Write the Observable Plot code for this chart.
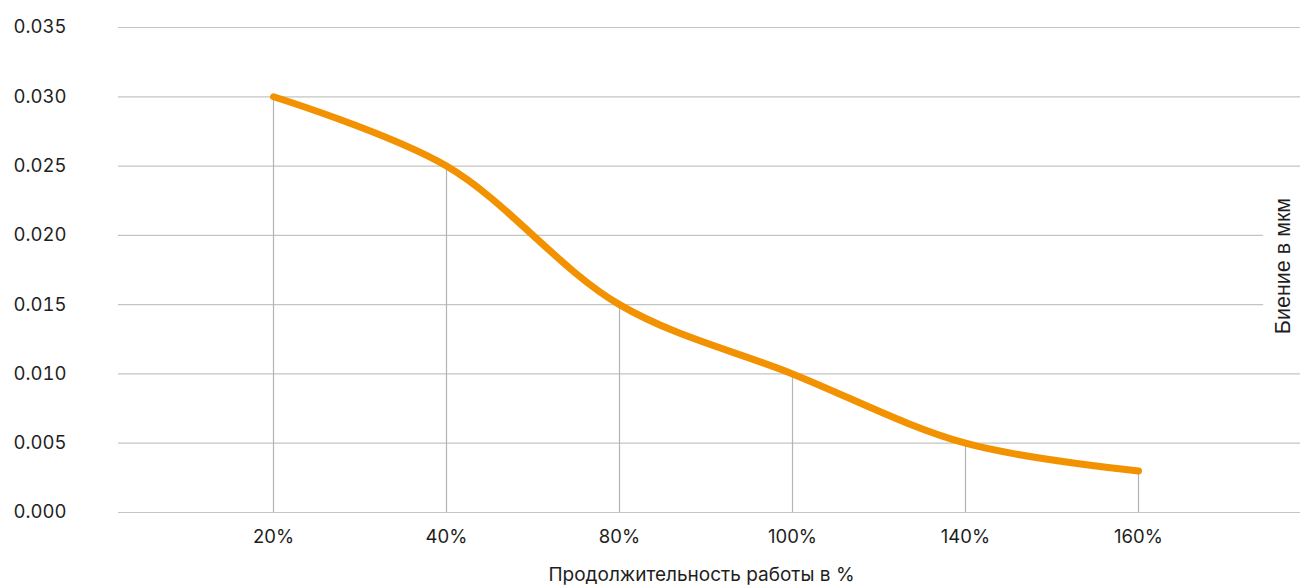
<!DOCTYPE html>
<html>
<head>
<meta charset="utf-8">
<script src="https://cdn.jsdelivr.net/npm/d3@7"></script>
<script src="https://cdn.jsdelivr.net/npm/@observablehq/plot@0.6"></script>
<style>
  html, body { margin: 0; padding: 0; background: #fff; }
  #chart { width: 1301px; height: 586px; }
</style>
</head>
<body>
<div id="chart"></div>
<script>
const categories = ["20%", "40%", "80%", "100%", "140%", "160%"];
const values = [0.030, 0.025, 0.015, 0.010, 0.005, 0.003];
const yTicks = [0, 0.005, 0.010, 0.015, 0.020, 0.025, 0.030, 0.035];
const xTitle = "Продолжительность работы в %";
const yTitle = "Биение в мкм";

const data = categories.map((c, i) => ({cat: c, val: values[i]}));
const FONT = "Inter, Lato, sans-serif";

const plot = Plot.plot({
  width: 1301,
  height: 586,
  marginLeft: 118,
  marginRight: 1,
  marginTop: 27,
  marginBottom: 74,
  style: {fontFamily: FONT, fontSize: "18.5px", color: "#222", background: "#fff"},
  x: {type: "point", domain: categories, padding: 0.91, align: 0.49},
  y: {domain: [0, 0.035]},
  marks: [
    Plot.ruleY(yTicks, {stroke: "#c4c4c4", strokeWidth: 1.2}),
    Plot.ruleX(data, {x: "cat", y1: 0, y2: "val", stroke: "#b4b4b4", strokeWidth: 1.2}),
    Plot.axisY(yTicks, {
      tickSize: 0, tickPadding: 0, textAnchor: "start", dx: -105,
      tickFormat: d3.format(".3f"), label: null, fontSize: 18.5, fill: "#1e1e1e"
    }),
    Plot.axisX({tickSize: 0, tickPadding: 17, label: null, fontSize: 18.5, fill: "#1e1e1e"}),
    Plot.line(data, {
      x: "cat", y: "val", stroke: "#F39200", strokeWidth: 7,
      curve: "catmull-rom", strokeLinecap: "round", strokeLinejoin: "round"
    }),
    Plot.text([xTitle], {
      frameAnchor: "bottom", text: d => d, dy: 62, dx: -8,
      fontSize: 19, fill: "#1e1e1e", lineAnchor: "middle"
    }),
    Plot.text([yTitle], {
      frameAnchor: "right", text: d => d, rotate: -90, dx: -17, dy: -4,
      textAnchor: "middle", lineAnchor: "middle",
      fontSize: 21.5, fill: "#1e1e1e", stroke: "#fff", strokeWidth: 30,
      fontFamily: "'Liberation Sans', Arial, sans-serif"
    })
  ]
});
document.getElementById("chart").appendChild(plot);
</script>
</body>
</html>
